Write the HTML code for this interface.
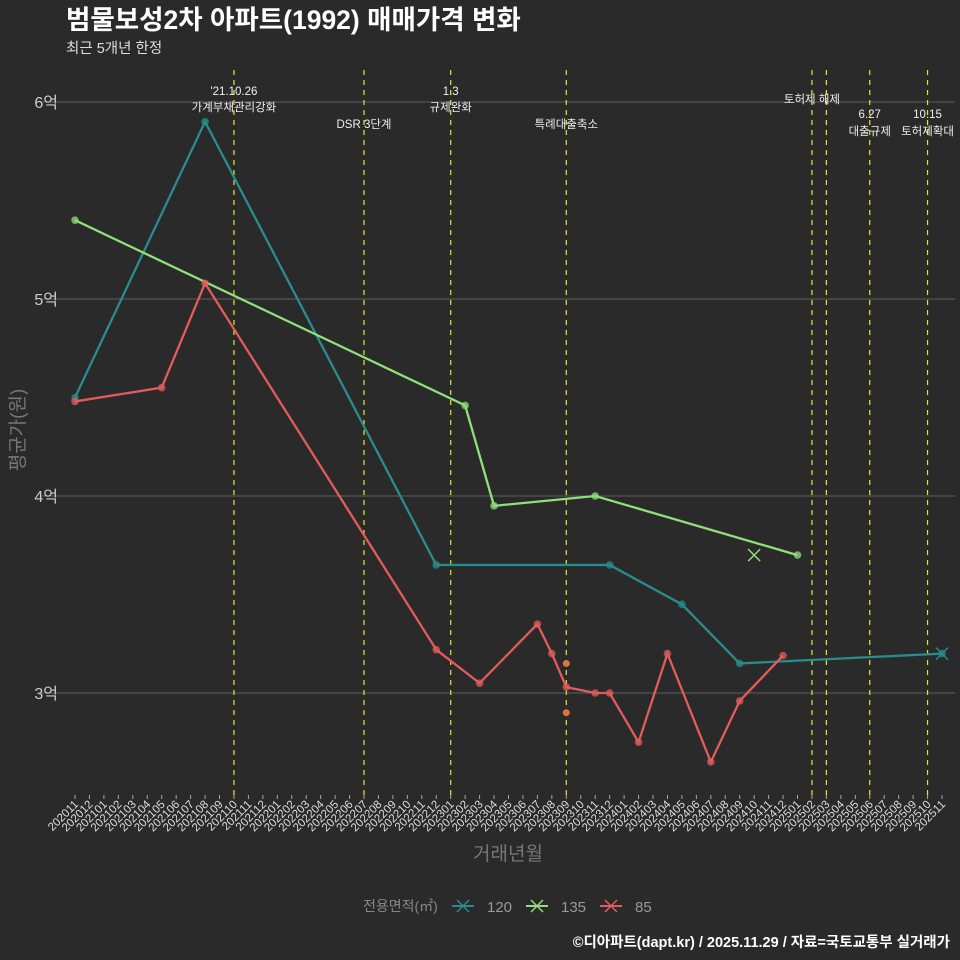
<!DOCTYPE html>
<html><head><meta charset="utf-8"><style>
body{margin:0;background:#2a2a2b;}
svg{display:block;font-family:"Liberation Sans","Noto Sans CJK KR",sans-serif;}
</style></head><body>
<svg id="c" width="960" height="960" viewBox="0 0 960 960">
<rect width="960" height="960" fill="#2a2a2b"/>
<text x="66" y="29" font-size="26.5" font-weight="bold" fill="#fff">범물보성2차 아파트(1992) 매매가격 변화</text>
<text x="66" y="53" font-size="14.5" fill="#ddd">최근 5개년 한정</text>
<g id="grid"></g><g id="events"></g><g id="series"></g><g id="xaxis"></g>
<text transform="translate(24,430) rotate(-90)" text-anchor="middle" font-size="19" fill="#777">평균가(원)</text>
<text x="508" y="860" text-anchor="middle" font-size="19" fill="#777">거래년월</text>
<g>
<text x="363" y="911" font-size="14" fill="#888">전용면적(㎡)</text>
<g id="legend"></g>
</g>
<text x="950" y="947" text-anchor="end" font-size="14.5" font-weight="bold" fill="#fff">©디아파트(dapt.kr) / 2025.11.29 / 자료=국토교통부 실거래가</text>
</svg>
<script>
const months=[];for(let y=2020,m=11;months.length<61;){months.push(y+String(m).padStart(2,'0'));m++;if(m>12){m=1;y++;}}
const yTicks=[3,4,5,6];
const yTickLabels=['3억','4억','5억','6억'];
const s120Months=['202011','202108','202212','202312','202405','202409','202511'];
const s120Values=[4.5,5.9,3.65,3.65,3.45,3.15,3.2];
const s135Months=['202011','202302','202304','202311','202501'];
const s135Values=[5.4,4.46,3.95,4.0,3.7];
const s135Single=['202410',3.7];
const s85Months=['202011','202105','202108','202212','202303','202307','202308','202309','202311','202312','202402','202404','202407','202409','202412'];
const s85Values=[4.48,4.55,5.08,3.22,3.05,3.35,3.2,3.03,3.0,3.0,2.75,3.2,2.65,2.96,3.19];
const extraMonths=['202309','202309'];
const extraValues=[3.15,2.9];
const eventMonths=['202110','202207','202301','202309','202502','202503','202506','202510'];
const eventLabels=[["'21.10.26","가계부채관리강화"],["DSR 3단계"],["1.3","규제완화"],["특례대출축소"],["토허제 해제"],[""],["6.27","대출규제"],["10.15","토허제확대"]];
const eventRows=[[95,111],[128],[95,111],[128],[103],[],[118,135],[118,135]];

const NS='http://www.w3.org/2000/svg';
const X=m=>75+months.indexOf(m)*14.45;
const Y=v=>102+(6-v)*197;
function el(t,a,p){const e=document.createElementNS(NS,t);for(const k in a)e.setAttribute(k,a[k]);document.getElementById(p).appendChild(e);return e;}
yTicks.forEach((v,i)=>{
 const l=el('line',{x1:40,x2:955,y1:Y(v),y2:Y(v),stroke:'#5e5e5e','stroke-width':1},'grid');
 
 
 const t=el('text',{x:58,y:Y(v)+6,'text-anchor':'end','font-size':16,fill:'#ccc'},'grid');t.textContent=yTickLabels[i];
 
 
});
eventMonths.forEach((m,i)=>{
 const l=el('line',{x1:X(m),x2:X(m),y1:70,y2:800,stroke:'#e5e82a','stroke-width':1.2,'stroke-dasharray':'5,5'},'events');
 
 
 eventLabels[i].forEach((s,j)=>{const t=el('text',{x:X(m),y:eventRows[i][j],'text-anchor':'middle','font-size':11.5,fill:'#eee'},'events');t.textContent=s;
 
 });
});
months.forEach(m=>{
 const x=X(m);
 const tk=el('line',{x1:x,x2:x,y1:795,y2:799,stroke:'#aaa'},'xaxis');
 
 
 const t=el('text',{transform:`translate(${x+4},805) rotate(-45)`,'text-anchor':'end','font-size':11.5,fill:'#ddd'},'xaxis');t.textContent=m;
 
 
});
function series(ms,vs,col,name){
 const p=el('polyline',{points:ms.map((m,i)=>X(m)+','+Y(vs[i])).join(' '),fill:'none',stroke:col,'stroke-width':2.3},'series');
 
 
 ms.forEach((m,i)=>{const c=el('circle',{cx:X(m),cy:Y(vs[i]),r:3.8,fill:col,'fill-opacity':0.75},'series');
 
 });
}
function xmark(x,y,col,name){const g=el('path',{d:`M${x-6},${y-6}L${x+6},${y+6}M${x-6},${y+6}L${x+6},${y-6}`,stroke:col,'stroke-width':1.5},'series');
 
 }
series(s120Months,s120Values,'#2a8c8c','series-120');
series(s135Months,s135Values,'#8fe07a','series-135');
series(s85Months,s85Values,'#e35c5c','series-85');
extraMonths.forEach((m,i)=>{const c=el('circle',{cx:X(m),cy:Y(extraValues[i]),r:3.5,fill:'#d9773f'},'series');
 
 });
xmark(X(s120Months[6]),Y(s120Values[6]),'#2a8c8c','series-120-last-marker');
xmark(X(s135Single[0]),Y(s135Single[1]),'#8fe07a','series-135-single-marker');
[['#2a8c8c','120',452],['#8fe07a','135',526],['#e35c5c','85',600]].forEach(([c,l,x])=>{
 const ln=el('line',{x1:x,x2:x+22,y1:906,y2:906,stroke:c,'stroke-width':2},'legend');
 
 
 xmark(x+11,906,c,'legend-marker');
 const t=el('text',{x:x+35,y:912,'font-size':15,fill:'#999'},'legend');t.textContent=l;
 
 
});
</script>
</body></html>
